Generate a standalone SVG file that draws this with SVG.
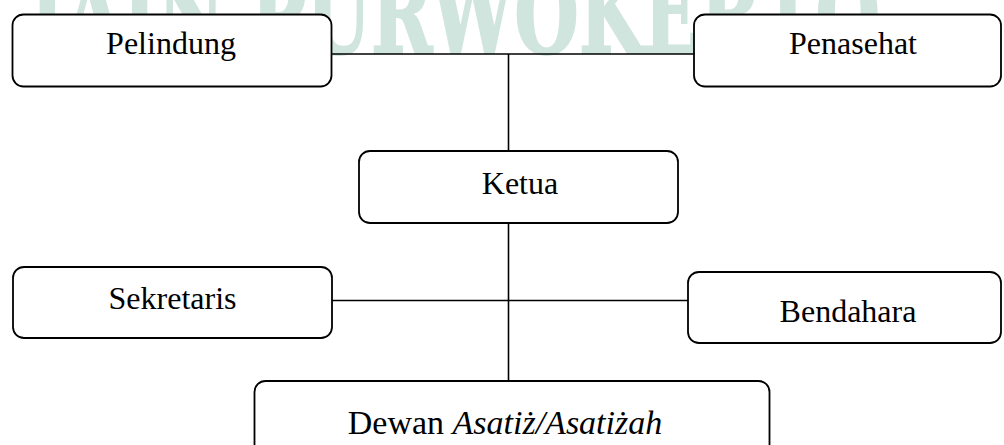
<svg xmlns="http://www.w3.org/2000/svg" width="1004" height="445" viewBox="0 0 1004 445">
<style>
.box{fill:#fff;stroke:#000;stroke-width:1.8}
.lbl{font-family:"Liberation Serif","Times New Roman",serif;font-size:32px;fill:#000;text-anchor:middle}
.conn{stroke:#000;stroke-width:1.6;fill:none}
.wm{font-family:"DejaVu Serif","Liberation Serif",serif;font-weight:bold;font-size:110px;fill:#d0e5dd;stroke:#d0e5dd;stroke-width:2}
</style>
<rect width="1004" height="445" fill="#fff"/>
<text class="wm" x="30" y="53" textLength="850" lengthAdjust="spacingAndGlyphs">IAIN PURWOKERTO</text>
<g id="connectors">
<line class="conn" x1="331" y1="54" x2="694" y2="54"/>
<line class="conn" x1="508.5" y1="54" x2="508.5" y2="151"/>
<line class="conn" x1="508.5" y1="223" x2="508.5" y2="381"/>
<line class="conn" x1="332" y1="300.5" x2="688" y2="300.5"/>
</g>
<g id="pelindung">
<rect class="box" x="12.5" y="14.5" width="319" height="72" rx="11"/>
<text class="lbl" x="171" y="54">Pelindung</text>
</g>
<g id="penasehat">
<rect class="box" x="694" y="14.5" width="307" height="72" rx="11"/>
<text class="lbl" x="853" y="54">Penasehat</text>
</g>
<g id="ketua">
<rect class="box" x="359" y="151" width="319" height="72" rx="11"/>
<text class="lbl" x="520" y="194">Ketua</text>
</g>
<g id="sekretaris">
<rect class="box" x="13" y="267" width="319" height="71" rx="11"/>
<text class="lbl" x="172.5" y="309">Sekretaris</text>
</g>
<g id="bendahara">
<rect class="box" x="688" y="272" width="313" height="71" rx="11"/>
<text class="lbl" x="848" y="322">Bendahara</text>
</g>
<g id="dewan">
<rect class="box" x="254.5" y="381" width="515" height="90" rx="11"/>
<text class="lbl" x="505" y="434" style="font-size:34px">Dewan <tspan font-style="italic">Asatiż/Asatiżah</tspan></text>
</g>
</svg>
